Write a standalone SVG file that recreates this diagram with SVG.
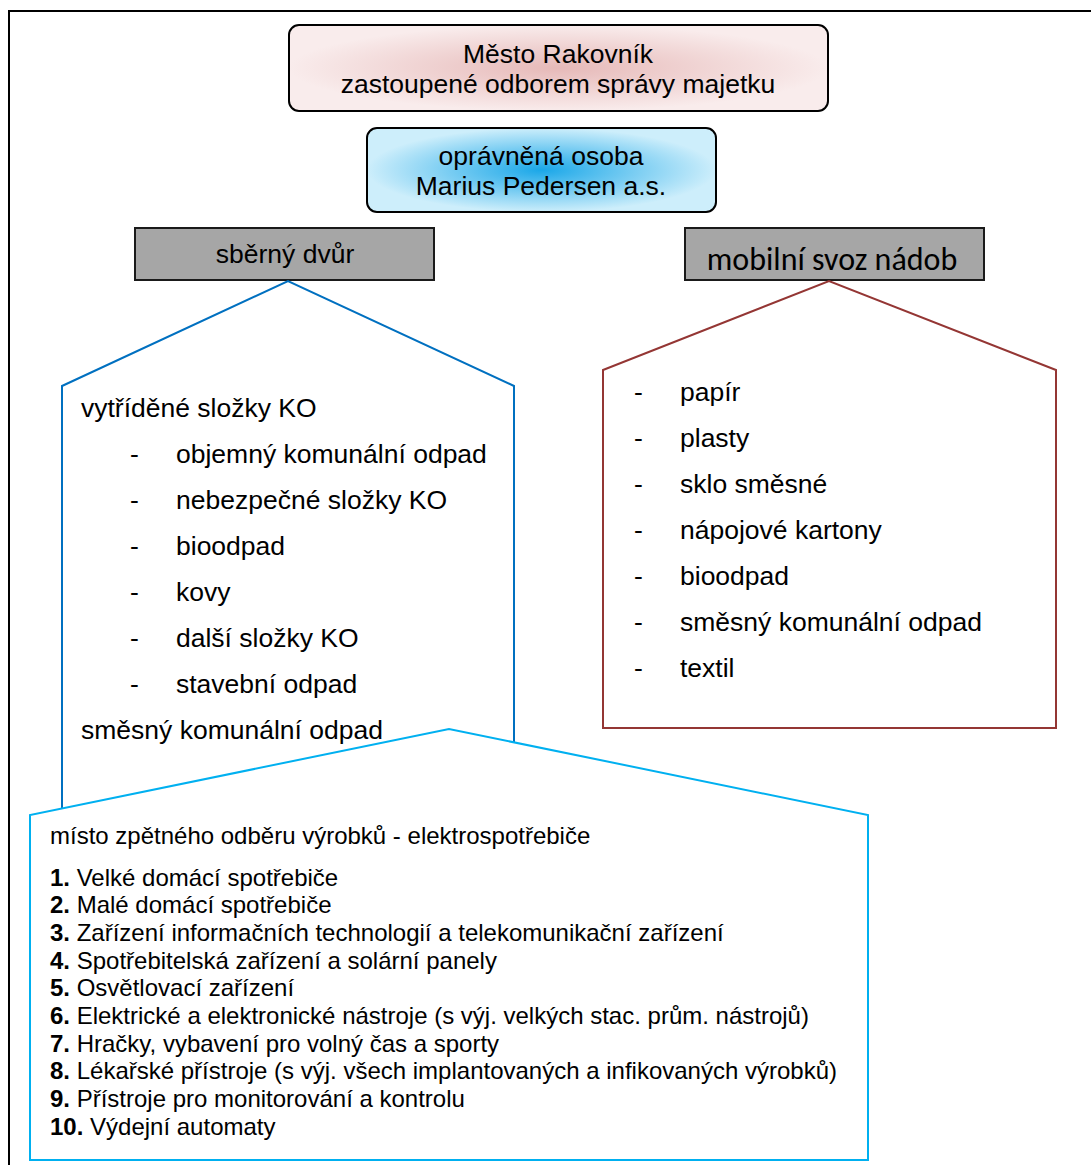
<svg xmlns="http://www.w3.org/2000/svg" width="1091" height="1165" viewBox="0 0 1091 1165">
<defs>
<radialGradient id="gPink" cx="50%" cy="50%" r="50%">
<stop offset="0" stop-color="#e6b9b8"/>
<stop offset="1" stop-color="#f9ecec"/>
</radialGradient>
<radialGradient id="gBlue" cx="50%" cy="50%" r="50%">
<stop offset="0" stop-color="#1aa7e8"/>
<stop offset="1" stop-color="#cdeefb"/>
</radialGradient>
<style>
text{font-family:"Liberation Sans",Arial,sans-serif;fill:#000}
.t22{font-size:26.5px}
.t20{font-size:24px}
.c{text-anchor:middle}
.grey{fill:#a6a6a6;stroke:#1a1a1a;stroke-width:2}
.round{stroke:#000;stroke-width:2}
</style>
</defs>
<rect x="0" y="0" width="1091" height="1165" fill="#fff"/>
<path d="M9,1165 V11 H1091" fill="none" stroke="#000" stroke-width="2"/>

<g id="connectors"></g>

<g id="mesto">
<rect class="round" x="289" y="25" width="539" height="86" rx="10" fill="url(#gPink)"/>
<text class="t22 c" x="558" y="63">Město Rakovník</text>
<text class="t22 c" x="558" y="93">zastoupené odborem správy majetku</text>
</g>

<g id="osoba">
<rect class="round" x="367" y="128" width="349" height="84" rx="10" fill="url(#gBlue)"/>
<text class="t22 c" x="541" y="165">oprávněná osoba</text>
<text class="t22 c" x="541" y="195">Marius Pedersen a.s.</text>
</g>

<g id="sberny-dvur">
<rect class="grey" x="135" y="228" width="299" height="52"/>
<text class="t22 c" x="285" y="263">sběrný dvůr</text>
</g>

<g id="mobilni-svoz">
<rect class="grey" x="685" y="228" width="299" height="52"/>
<text class="c" x="832" y="270" style="font-family:Carlito,Lato,'Open Sans',sans-serif;font-size:32px">mobilní svoz nádob</text>
</g>

<g id="sberny-list">
<path d="M62,810 V386 L288,281 L514,386 V745" fill="#fff" stroke="#0070c0" stroke-width="2"/>
<text class="t22" x="81" y="417">vytříděné složky KO</text>
<g class="t22">
<text x="130" y="463">-</text><text x="176" y="463">objemný komunální odpad</text>
<text x="130" y="509">-</text><text x="176" y="509">nebezpečné složky KO</text>
<text x="130" y="555">-</text><text x="176" y="555">bioodpad</text>
<text x="130" y="601">-</text><text x="176" y="601">kovy</text>
<text x="130" y="647">-</text><text x="176" y="647">další složky KO</text>
<text x="130" y="693">-</text><text x="176" y="693">stavební odpad</text>
</g>
<text class="t22" x="81" y="739">směsný komunální odpad</text>
</g>

<g id="mobilni-list">
<path d="M603,728 V370 L829,281 L1056,370 V728 Z" fill="#fff" stroke="#943634" stroke-width="2"/>
<g class="t22">
<text x="634" y="401">-</text><text x="680" y="401">papír</text>
<text x="634" y="447">-</text><text x="680" y="447">plasty</text>
<text x="634" y="493">-</text><text x="680" y="493">sklo směsné</text>
<text x="634" y="539">-</text><text x="680" y="539">nápojové kartony</text>
<text x="634" y="585">-</text><text x="680" y="585">bioodpad</text>
<text x="634" y="631">-</text><text x="680" y="631">směsný komunální odpad</text>
<text x="634" y="677">-</text><text x="680" y="677">textil</text>
</g>
</g>

<g id="zpetny-odber">
<path d="M30,1160 V815 L449,729 L868,815 V1160 Z" fill="#fff" stroke="#00b0f0" stroke-width="2"/>
<text class="t20" x="50" y="844">místo zpětného odběru výrobků - elektrospotřebiče</text>
<g class="t20">
<text x="50" y="886"><tspan font-weight="bold">1.</tspan> Velké domácí spotřebiče</text>
<text x="50" y="913"><tspan font-weight="bold">2.</tspan> Malé domácí spotřebiče</text>
<text x="50" y="941"><tspan font-weight="bold">3.</tspan> Zařízení informačních technologií a telekomunikační zařízení</text>
<text x="50" y="969"><tspan font-weight="bold">4.</tspan> Spotřebitelská zařízení a solární panely</text>
<text x="50" y="996"><tspan font-weight="bold">5.</tspan> Osvětlovací zařízení</text>
<text x="50" y="1024"><tspan font-weight="bold">6.</tspan> Elektrické a elektronické nástroje (s výj. velkých stac. prům. nástrojů)</text>
<text x="50" y="1052"><tspan font-weight="bold">7.</tspan> Hračky, vybavení pro volný čas a sporty</text>
<text x="50" y="1079"><tspan font-weight="bold">8.</tspan> Lékařské přístroje (s výj. všech implantovaných a infikovaných výrobků)</text>
<text x="50" y="1107"><tspan font-weight="bold">9.</tspan> Přístroje pro monitorování a kontrolu</text>
<text x="50" y="1135"><tspan font-weight="bold">10.</tspan> Výdejní automaty</text>
</g>
</g>
</svg>
